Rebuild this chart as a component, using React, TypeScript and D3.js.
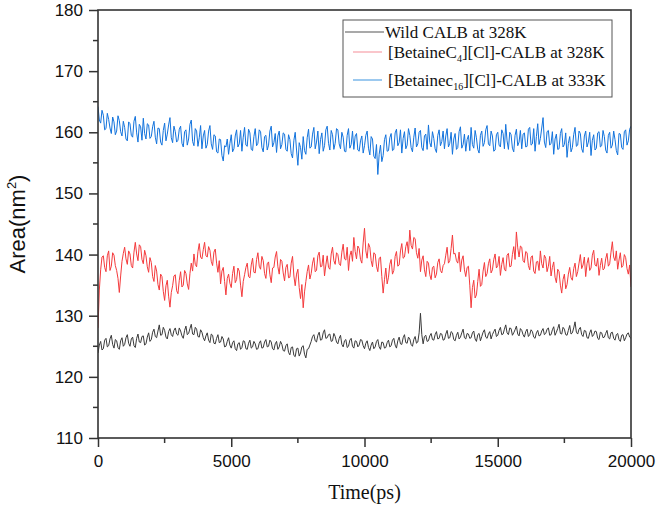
import { useEffect, useRef } from 'react'
import * as d3 from 'd3'

// sampled every 50 ps, 0..20000
const timeStep = 50

const wildCalb = [
  123.9, 125.2, 125.8, 124.4, 124.6, 126.0, 126.3, 124.9, 125.1, 126.2, 126.8, 125.3, 124.7, 126.1, 125.9, 124.8, 124.5, 125.9, 126.4, 125.0,
  125.3, 126.4, 126.9, 125.5, 125.0, 126.2, 126.5, 125.1, 124.8, 126.3, 127.0, 125.7, 125.6, 126.6, 126.7, 125.2, 125.4, 126.5, 127.2, 125.8,
  126.1, 127.3, 127.8, 126.6, 126.4, 127.5, 128.5, 126.8, 126.9, 128.1, 127.6, 126.5, 126.2, 127.4, 127.9, 126.9, 126.6, 127.6, 128.0, 127.0,
  126.8, 128.0, 127.5, 126.7, 126.3, 127.6, 128.3, 126.9, 127.1, 127.9, 128.6, 127.0, 126.9, 128.1, 127.8, 126.6, 126.5, 127.7, 127.3, 126.4,
  125.9, 126.7, 127.2, 126.0, 125.6, 127.0, 126.8, 125.5, 125.4, 126.3, 126.9, 125.6, 125.7, 126.6, 126.2, 124.9, 125.0, 125.8, 126.4, 125.2,
  124.7, 125.6, 125.9, 124.6, 124.3, 125.4, 125.6, 124.5, 124.8, 125.9, 125.8, 124.6, 124.5, 125.5, 126.0, 124.7, 124.9, 125.8, 125.4, 124.5,
  124.6, 125.5, 125.9, 124.7, 124.8, 125.7, 126.1, 124.9, 125.0, 126.0, 125.7, 124.6, 124.4, 125.4, 125.8, 124.5, 124.9, 125.8, 125.3, 124.3,
  124.2, 125.1, 125.4, 124.0, 123.6, 124.8, 124.9, 123.5, 123.3, 124.6, 124.7, 123.4, 123.9, 124.9, 125.1, 123.7, 123.1, 124.5, 124.6, 125.2,
  125.8, 126.6, 126.9, 125.9, 125.7, 126.8, 127.3, 126.0, 126.1, 127.2, 127.7, 126.3, 126.4, 126.9, 127.0, 125.8, 125.9, 127.1, 126.6, 125.7,
  125.4, 126.3, 126.8, 125.3, 124.9, 125.9, 126.1, 124.8, 125.0, 126.0, 126.3, 125.0, 124.7, 125.9, 125.8, 124.9, 125.2, 126.1, 126.0, 125.1,
  124.6, 125.5, 125.9, 124.8, 124.3, 125.2, 125.7, 124.6, 124.9, 125.8, 126.1, 124.9, 124.5, 125.7, 125.6, 124.7, 124.8, 125.6, 126.0, 124.9,
  125.1, 126.0, 126.3, 125.2, 124.7, 125.9, 126.5, 125.4, 125.3, 126.4, 126.9, 125.6, 125.5, 126.5, 126.2, 125.3, 125.0, 126.1, 126.6, 125.5,
  125.7, 127.2, 130.4, 126.9, 125.4, 126.6, 126.8, 125.8, 125.9, 126.7, 127.1, 126.1, 126.0, 126.9, 127.4, 126.2, 126.3, 127.1, 127.0, 126.0,
  126.1, 127.0, 127.6, 126.3, 126.4, 127.4, 127.2, 126.1, 125.9, 126.8, 127.3, 126.2, 126.5, 127.2, 127.8, 126.4, 126.2, 127.1, 127.0, 126.3,
  126.4, 127.2, 127.5, 126.2, 125.8, 126.9, 127.1, 125.9, 126.6, 127.3, 127.7, 126.5, 126.3, 127.0, 127.4, 126.2, 126.9, 127.4, 127.8, 126.6,
  126.8, 127.6, 128.1, 126.9, 127.0, 127.8, 128.5, 127.2, 126.9, 128.0, 127.9, 126.8, 127.2, 127.7, 128.3, 127.0, 126.7, 127.9, 127.6, 126.9,
  126.5, 127.4, 127.8, 126.6, 126.9, 127.7, 127.4, 126.5, 126.3, 127.2, 127.6, 126.7, 126.8, 127.5, 127.9, 126.9, 127.1, 127.8, 128.0, 126.8,
  126.9, 127.7, 128.2, 126.8, 127.3, 127.9, 128.6, 127.1, 127.0, 128.1, 127.8, 126.9, 126.8, 127.6, 128.4, 127.0, 127.2, 128.0, 129.0, 127.3,
  127.0, 127.8, 128.1, 126.9, 126.6, 127.6, 127.5, 126.4, 126.3, 127.2, 127.7, 126.6, 126.9, 127.5, 127.4, 126.3, 126.1, 127.3, 127.2, 126.4,
  126.5, 127.1, 127.6, 126.4, 126.2, 127.2, 127.3, 126.3, 126.0, 126.9, 127.1, 126.1, 125.8, 126.8, 126.9, 125.9, 126.4, 127.0, 127.2, 126.5, 126.3,
]

const betaineC4 = [
  128.0, 134.2, 137.5, 139.6, 139.8, 137.9, 137.2, 139.8, 140.6, 137.4, 138.1, 140.3, 139.9, 138.2, 137.4, 136.1, 133.8, 136.5, 138.9, 140.2,
  141.2, 139.3, 138.4, 140.6, 140.1, 138.2, 137.8, 140.4, 142.0, 140.1, 139.0, 141.6, 141.3, 139.2, 138.5, 140.7, 139.8, 138.0, 137.1, 139.5,
  138.7, 136.4, 135.6, 138.2, 137.3, 135.1, 134.2, 136.8, 136.4, 134.0, 132.5, 134.9, 135.8, 133.2, 131.4, 133.8, 134.9, 136.5, 136.7, 134.1,
  133.6, 135.8, 137.2, 134.7, 135.0, 137.4, 136.9, 135.2, 134.3, 136.9, 138.6, 137.3, 140.1, 138.4, 138.0, 140.5, 141.8, 139.6, 139.3, 140.8,
  142.0, 139.8, 139.6, 141.3, 140.7, 138.9, 138.2, 140.4, 140.9, 138.6, 137.1, 139.0, 135.2, 137.3, 137.9, 135.6, 133.4, 136.1, 136.8, 135.3,
  134.6, 136.9, 138.1, 135.4, 135.9, 137.8, 137.3, 135.0, 133.1, 135.6, 136.7, 137.9, 138.6, 136.4, 136.2, 138.3, 139.4, 137.1, 137.0, 139.2,
  140.3, 138.1, 137.6, 139.7, 139.0, 136.9, 136.1, 138.5, 138.8, 136.7, 135.4, 137.8, 137.9, 139.6, 140.5, 138.0, 136.8, 139.2, 138.9, 137.0,
  135.7, 137.9, 138.4, 136.2, 136.3, 138.6, 139.7, 136.5, 134.9, 136.8, 137.6, 134.6, 132.8, 135.1, 131.3, 133.9, 135.6, 137.2, 138.3, 136.0,
  136.9, 138.6, 139.5, 137.2, 137.4, 139.8, 140.4, 138.0, 138.1, 139.9, 136.5, 138.3, 139.8, 137.9, 137.6, 140.1, 141.2, 139.0, 138.4, 140.3,
  140.0, 138.5, 138.2, 140.4, 141.7, 139.3, 139.1, 141.2, 137.4, 139.8, 140.6, 138.9, 142.8, 140.5, 139.3, 141.4, 141.0, 139.2, 138.6, 141.9,
  144.3, 140.6, 139.4, 141.8, 141.2, 139.0, 138.0, 140.3, 140.1, 138.1, 137.2, 139.4, 139.6, 136.4, 133.7, 135.9, 137.8, 135.2, 136.3, 138.4,
  139.2, 136.8, 137.4, 139.7, 140.5, 138.1, 138.3, 140.6, 141.8, 139.4, 139.6, 141.3, 142.1, 140.2, 144.0, 141.5, 140.9, 142.8, 142.6, 140.3,
  139.4, 141.0, 137.2, 139.1, 139.8, 137.5, 136.4, 138.9, 138.6, 136.7, 135.9, 137.9, 138.1, 136.2, 136.8, 138.7, 139.3, 137.4, 137.0, 138.2,
  138.5, 139.9, 141.2, 138.6, 139.0, 141.0, 143.2, 140.1, 140.2, 139.0, 138.6, 140.4, 137.2, 139.1, 139.8, 137.5, 136.4, 137.9, 138.1, 135.0,
  131.3, 134.6, 135.8, 132.9, 133.4, 135.6, 137.6, 134.8, 135.1, 137.3, 138.7, 136.4, 136.9, 138.5, 139.3, 137.0, 137.5, 139.2, 140.1, 137.8,
  138.2, 139.7, 136.6, 138.4, 139.5, 137.6, 137.3, 139.9, 140.2, 138.0, 138.1, 140.0, 141.3, 139.2, 143.7, 141.1, 139.6, 141.4, 141.2, 139.0,
  138.7, 140.5, 140.3, 138.2, 137.5, 139.6, 139.8, 137.3, 136.9, 138.8, 138.9, 137.4, 140.6, 138.5, 137.8, 139.9, 139.4, 137.2, 138.1, 139.7,
  136.5, 137.9, 138.8, 136.3, 135.4, 137.6, 137.2, 135.0, 133.7, 135.9, 136.8, 134.4, 135.1, 136.8, 137.9, 136.2, 135.8, 137.7, 138.6, 136.4,
  137.2, 138.6, 140.0, 137.7, 138.3, 139.6, 136.4, 138.5, 139.5, 137.4, 137.8, 139.9, 140.7, 138.3, 138.1, 139.4, 136.6, 138.2, 139.4, 137.5,
  137.7, 139.3, 140.2, 138.1, 138.5, 140.4, 142.1, 139.6, 139.0, 140.6, 137.6, 139.1, 140.3, 137.9, 138.2, 140.0, 139.5, 137.7, 136.8, 138.3, 134.7,
]

const betaineC16 = [
  164.2, 162.0, 161.5, 163.6, 162.8, 160.4, 160.6, 163.1, 162.1, 160.7, 159.8, 162.5, 161.7, 159.6, 160.2, 162.7, 161.9, 160.1, 159.4, 161.8,
  160.8, 158.9, 158.6, 161.7, 161.4, 159.5, 159.2, 161.8, 162.6, 159.9, 158.4, 161.3, 160.9, 158.7, 162.3, 159.8, 158.9, 161.4, 161.2, 159.0,
  159.3, 160.9, 161.8, 159.2, 158.1, 160.7, 160.6, 158.4, 157.9, 160.3, 161.5, 158.6, 159.7, 161.2, 162.4, 159.1, 158.3, 161.0, 160.1, 158.4,
  158.7, 160.5, 161.0, 158.2, 157.6, 160.1, 160.4, 157.9, 158.9, 161.3, 162.0, 158.5, 157.8, 160.6, 160.2, 157.7, 159.1, 161.1, 157.3, 159.4,
  160.3, 157.4, 158.0, 160.2, 161.1, 158.1, 157.2, 159.6, 159.4, 156.8, 156.6, 158.9, 158.8, 156.2, 155.3, 157.8, 157.6, 158.9, 156.4, 158.2,
  159.6, 156.8, 157.3, 159.4, 160.4, 157.6, 158.1, 160.3, 156.9, 159.2, 160.8, 157.9, 157.7, 160.5, 159.9, 157.2, 157.0, 159.3, 160.6, 157.8,
  158.2, 160.4, 160.1, 157.5, 156.8, 159.3, 159.5, 157.1, 157.9, 160.2, 161.0, 157.6, 158.3, 159.8, 156.7, 159.4, 160.2, 157.3, 158.0, 159.9,
  159.7, 157.2, 156.9, 159.6, 158.8, 156.5, 155.8, 158.7, 160.0, 157.1, 154.6, 158.3, 157.5, 155.6, 159.3, 157.0, 156.4, 159.1, 160.5, 157.4,
  157.6, 159.7, 160.8, 157.3, 158.4, 160.2, 156.5, 158.8, 159.9, 156.9, 157.8, 160.4, 161.0, 158.2, 157.1, 160.3, 159.6, 157.2, 158.2, 160.6,
  160.4, 158.1, 157.3, 160.0, 159.2, 156.9, 156.8, 159.5, 160.6, 157.4, 158.0, 160.2, 157.2, 159.4, 159.8, 157.1, 156.9, 158.6, 159.4, 156.6,
  157.8, 159.5, 160.2, 157.4, 156.3, 159.3, 158.9, 156.1, 155.7, 158.0, 153.1, 156.4, 157.9, 155.2, 156.2, 158.8, 159.6, 156.9, 157.0, 159.1,
  159.8, 157.0, 157.2, 159.9, 160.5, 157.8, 158.3, 160.4, 156.6, 159.0, 160.1, 157.3, 157.9, 160.6, 159.5, 157.5, 156.8, 159.2, 160.7, 157.6,
  158.1, 160.0, 160.3, 157.5, 157.0, 159.4, 159.7, 157.2, 161.2, 158.3, 157.6, 160.1, 159.0, 157.3, 156.7, 159.5, 160.4, 157.8, 158.5, 160.2,
  157.3, 159.4, 160.6, 157.6, 158.2, 160.0, 156.4, 158.9, 159.8, 157.2, 157.5, 160.1, 160.9, 157.4, 158.0, 159.7, 156.9, 158.8, 159.5, 157.0,
  160.8, 158.0, 157.4, 160.3, 159.1, 157.2, 156.6, 159.5, 160.2, 157.7, 158.3, 160.4, 161.1, 158.1, 157.8, 160.2, 159.4, 156.9, 157.1, 159.6,
  160.0, 157.9, 157.6, 160.4, 159.8, 157.3, 161.3, 158.6, 157.2, 160.0, 159.6, 157.4, 156.8, 159.5, 160.5, 157.8, 158.4, 160.3, 157.3, 159.7,
  159.9, 157.6, 157.7, 160.5, 160.8, 157.9, 158.1, 160.6, 156.9, 159.3, 161.4, 158.0, 159.0, 160.7, 162.4, 158.4, 157.5, 160.1, 160.3, 157.9,
  158.2, 160.1, 156.4, 158.9, 159.7, 157.2, 157.3, 159.8, 160.6, 157.6, 158.0, 159.9, 155.9, 158.2, 159.3, 156.8, 157.5, 159.6, 160.8, 157.7,
  157.9, 160.2, 159.8, 157.3, 156.7, 159.4, 160.2, 157.6, 158.4, 160.0, 156.2, 158.7, 159.6, 157.1, 157.4, 159.9, 160.1, 157.6, 157.8, 160.3,
  159.3, 157.1, 156.6, 159.5, 160.0, 157.4, 157.9, 160.2, 158.8, 157.0, 156.3, 159.8, 159.7, 157.5, 157.2, 160.1, 160.4, 157.9, 158.6, 160.5, 161.0,
]

const yTicks = [110, 120, 130, 140, 150, 160, 170, 180]
const xTicks = [0, 5000, 10000, 15000, 20000]

export default function App() {
  const svgRef = useRef<SVGSVGElement>(null)

  useEffect(() => {
    if (!svgRef.current) return

    const svg = d3.select(svgRef.current)
    svg.selectAll('*').remove()

    const width = 657
    const height = 508
    const margin = { top: 10, right: 26, bottom: 70, left: 98 }
    const innerWidth = width - margin.left - margin.right
    const innerHeight = height - margin.top - margin.bottom
    const axisColor = '#333'

    const x = d3.scaleLinear().domain([0, 20000]).range([0, innerWidth])
    const y = d3.scaleLinear().domain([110, 180]).range([innerHeight, 0])

    const g = svg
      .append('g')
      .attr('transform', `translate(${margin.left},${margin.top})`)

    const line = d3
      .line<number>()
      .x((_, i) => x(i * timeStep))
      .y((d) => y(d))

    const series = [
      { data: wildCalb, color: '#3a3a3a' },
      { data: betaineC4, color: '#f43a3c' },
      { data: betaineC16, color: '#1273dd' },
    ]

    g.append('defs')
      .append('clipPath')
      .attr('id', 'plot-clip')
      .append('rect')
      .attr('width', innerWidth)
      .attr('height', innerHeight)

    series.forEach((s) => {
      g.append('path')
        .datum(s.data)
        .attr('clip-path', 'url(#plot-clip)')
        .attr('fill', 'none')
        .attr('stroke', s.color)
        .attr('stroke-width', 1)
        .attr('stroke-linejoin', 'round')
        .attr('d', line)
    })

    // minor ticks
    const yMinor = yTicks.slice(0, -1).map((t) => t + 5)
    const xMinor = xTicks.slice(0, -1).map((t) => t + 2500)

    g.selectAll('.y-minor')
      .data(yMinor)
      .enter()
      .append('line')
      .attr('x1', -5)
      .attr('x2', 0)
      .attr('y1', (d) => y(d))
      .attr('y2', (d) => y(d))
      .attr('stroke', axisColor)
      .attr('stroke-width', 1.5)

    g.selectAll('.x-minor')
      .data(xMinor)
      .enter()
      .append('line')
      .attr('y1', innerHeight)
      .attr('y2', innerHeight + 5)
      .attr('x1', (d) => x(d))
      .attr('x2', (d) => x(d))
      .attr('stroke', axisColor)
      .attr('stroke-width', 1.5)

    const yAxis = g
      .append('g')
      .call(d3.axisLeft(y).tickValues(yTicks).tickSize(9).tickPadding(6))
    yAxis.select('.domain').remove()
    yAxis.selectAll('line').attr('stroke', axisColor).attr('stroke-width', 1.5)
    yAxis
      .selectAll('text')
      .attr('fill', '#111')
      .attr('font-size', '17px')
      .attr('font-family', '"Liberation Sans", Arial, sans-serif')

    const xAxis = g
      .append('g')
      .attr('transform', `translate(0,${innerHeight})`)
      .call(d3.axisBottom(x).tickValues(xTicks).tickFormat(d3.format('d')).tickSize(9).tickPadding(8))
    xAxis.select('.domain').remove()
    xAxis.selectAll('line').attr('stroke', axisColor).attr('stroke-width', 1.5)
    xAxis
      .selectAll('text')
      .attr('fill', '#111')
      .attr('font-size', '17px')
      .attr('font-family', '"Liberation Sans", Arial, sans-serif')

    // frame
    g.append('rect')
      .attr('width', innerWidth)
      .attr('height', innerHeight)
      .attr('fill', 'none')
      .attr('stroke', axisColor)
      .attr('stroke-width', 1.6)

    // axis titles
    svg.append('text')
      .attr('x', margin.left + innerWidth / 2)
      .attr('y', 499)
      .attr('text-anchor', 'middle')
      .attr('font-size', '20px')
      .attr('font-family', '"Liberation Serif", "Times New Roman", serif')
      .attr('fill', '#111')
      .text('Time(ps)')

    const yTitle = svg.append('text')
      .attr('transform', `translate(25,${margin.top + innerHeight / 2}) rotate(-90)`)
      .attr('text-anchor', 'middle')
      .attr('font-size', '22px')
      .attr('font-family', '"Liberation Sans", Arial, sans-serif')
      .attr('fill', '#111')
    yTitle.append('tspan').text('Area(nm')
    yTitle.append('tspan').attr('font-size', '13px').attr('dy', -9).text('2')
    yTitle.append('tspan').attr('dy', 9).text(')')

    // legend
    const legend = svg.append('g')
    legend.append('rect')
      .attr('x', 343)
      .attr('y', 20)
      .attr('width', 269)
      .attr('height', 77)
      .attr('fill', '#fff')
      .attr('stroke', '#555')
      .attr('stroke-width', 1)

    const serif = '"Liberation Serif", "Times New Roman", serif'
    const entries = [
      { color: '#555', x1: 345, x2: 384, y: 32, tx: 385, parts: [['Wild CALB at 328K', '']] },
      { color: '#f7a0a8', x1: 353, x2: 382, y: 52, tx: 388, parts: [['[BetaineC', ''], ['4', 'sub'], ['][Cl]-CALB at 328K', '']] },
      { color: '#5aa4e4', x1: 353, x2: 382, y: 80, tx: 388, parts: [['[Betainec', ''], ['16', 'sub'], ['][Cl]-CALB at 333K', '']] },
    ]

    entries.forEach((e) => {
      legend.append('line')
        .attr('x1', e.x1)
        .attr('x2', e.x2)
        .attr('y1', e.y)
        .attr('y2', e.y)
        .attr('stroke', e.color)
        .attr('stroke-width', 1.2)

      const t = legend.append('text')
        .attr('x', e.tx)
        .attr('y', e.y + 5.5)
        .attr('font-size', '17px')
        .attr('font-family', serif)
        .attr('fill', '#111')

      let shifted = false
      e.parts.forEach(([s, kind]) => {
        const span = t.append('tspan').text(s)
        if (kind === 'sub') {
          span.attr('font-size', '10px').attr('dy', 4)
          shifted = true
        } else if (shifted) {
          span.attr('dy', -4)
          shifted = false
        }
      })
    })
  }, [])

  return (
    <svg
      ref={svgRef}
      width={657}
      height={508}
      viewBox="0 0 657 508"
      style={{ position: 'absolute', left: 0, top: 0, background: '#fff' }}
    />
  )
}
